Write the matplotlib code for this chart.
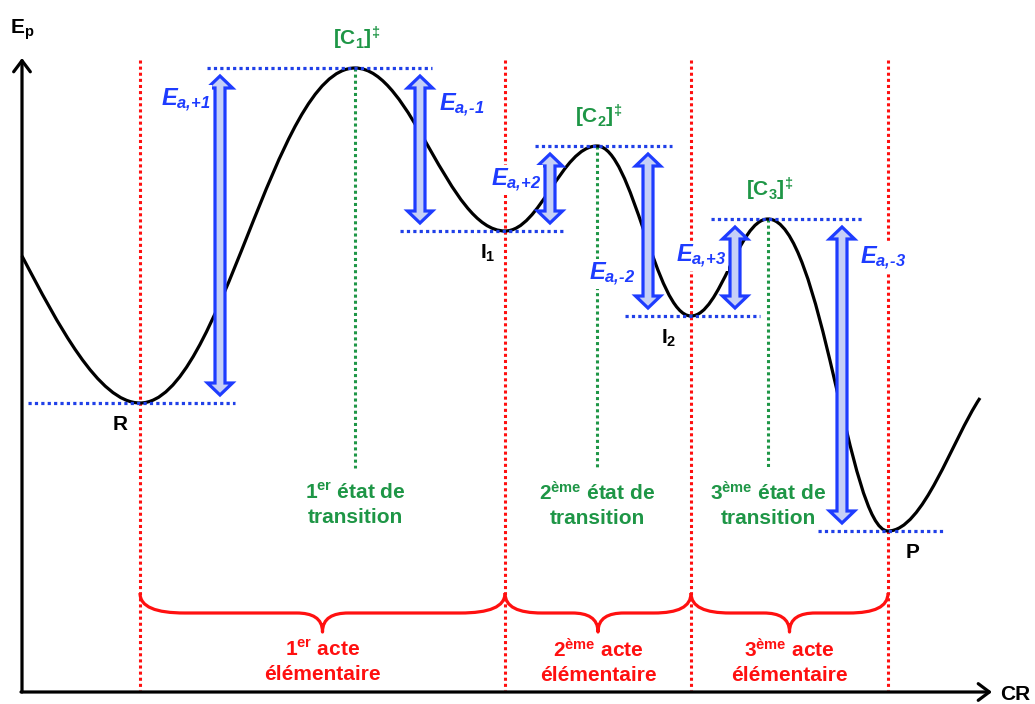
import matplotlib.pyplot as plt
from matplotlib.path import Path
from matplotlib.patches import PathPatch, Polygon

plt.rcParams['font.family'] = ['Liberation Sans', 'DejaVu Sans']
plt.rcParams['font.weight'] = 'bold'
plt.rcParams['mathtext.fontset'] = 'custom'
plt.rcParams['mathtext.rm'] = 'Liberation Sans:italic:bold'
plt.rcParams['mathtext.it'] = 'Liberation Sans:italic:bold'
plt.rcParams['mathtext.bf'] = 'Liberation Sans:bold'

# stationary points of the energy profile (x = CR, y = Ep, picture units, y downwards)
points = ['start', 'R', 'C1', 'I1', 'C2', 'I2', 'C3', 'P', 'end']
cr = [22, 140, 355, 505, 597, 691, 768, 888, 980]
ep = [256, 403, 68, 231, 146, 316, 219, 531, 398]
P = dict(zip(points, zip(cr, ep)))

# blue dotted energy levels and their extent
levels = ['R', 'C1', 'I1', 'C2', 'I2', 'C3', 'P']
level_from = [28, 207, 400, 535, 625, 711, 818]
level_to = [235, 432, 565, 672, 760, 862, 945]

# activation energy arrows
ea_text = [r'$E_{a\text{,+1}}$', r'$E_{a\text{,-1}}$', r'$E_{a\text{,+2}}$',
           r'$E_{a\text{,-2}}$', r'$E_{a\text{,+3}}$', r'$E_{a\text{,-3}}$']
ea_x = [220, 420, 550, 648, 735, 842]
ea_low = ['R', 'I1', 'I1', 'I2', 'I2', 'P']
ea_high = ['C1', 'C1', 'C2', 'C2', 'C3', 'C3']
ea_lab = [(186, 100), (462, 105), (516, 180), (612, 274), (701, 256), (883, 258)]

# transition states and elementary steps
ts = ['C1', 'C2', 'C3']
ts_name = [r'$\mathbf{[C_1]^‡}$', r'$\mathbf{[C_2]^‡}$', r'$\mathbf{[C_3]^‡}$']
ts_text = [r'$\mathbf{1^{er}}$ état de' + '\ntransition',
           r'$\mathbf{2^{ème}}$ état de' + '\ntransition',
           r'$\mathbf{3^{ème}}$ état de' + '\ntransition']
step_bounds = ['R', 'I1', 'I2', 'P']
step_text = [r'$\mathbf{1^{er}}$ acte' + '\nélémentaire',
             r'$\mathbf{2^{ème}}$ acte' + '\nélémentaire',
             r'$\mathbf{3^{ème}}$ acte' + '\nélémentaire']
species = ['R', 'I1', 'I2', 'P']
species_text = ['R', r'$\mathbf{I_1}$', r'$\mathbf{I_2}$', 'P']
species_off = [(-20, 22), (-17, 22), (-22, 22), (25, 21)]

GREEN = '#1e9646'
RED = '#ff1010'
BLUE = '#1e3cff'

fig = plt.figure(figsize=(10.35, 7.04), dpi=100)
ax = fig.add_axes([0, 0, 1, 1])
ax.set_xlim(0, 1035)
ax.set_ylim(704, 0)
ax.axis('off')

# axes arrows
aprops = dict(arrowstyle='->,head_length=0.4,head_width=0.3', lw=2.3, color='black',
              mutation_scale=20, shrinkA=0, shrinkB=0)
ax.annotate('', xy=(22, 58), xytext=(22, 692), arrowprops=aprops)
ax.annotate('', xy=(992, 692), xytext=(21, 692), arrowprops=aprops)
ax.text(10, 30, r'$\mathbf{E_p}$', fontsize=15, va='center', ha='left')
ax.text(1000, 695, 'CR', fontsize=15, va='center', ha='left')

dots = (0, (1, 1))
# red boundaries between elementary steps
for name in step_bounds:
    ax.plot([P[name][0]] * 2, [60, 690], color=RED, lw=2.2, ls=dots)

# green transition state lines
for name, lab, txt in zip(ts, ts_name, ts_text):
    x, y = P[name]
    ax.plot([x, x], [y, 468], color=GREEN, lw=2.2, ls=dots)
    ax.text(x + 2, y - 30, lab, color=GREEN, fontsize=15, ha='center', va='center')
    ax.text(x, 505, txt, color=GREEN, fontsize=15, ha='center', va='center',
            multialignment='center', linespacing=1.3)

# energy profile as smooth Bezier pieces with flat tangents at the extrema
verts = [P['start']]
codes = [Path.MOVETO]
for i in range(len(points) - 1):
    (xa, ya), (xb, yb) = P[points[i]], P[points[i + 1]]
    dx = xb - xa
    k1, k2 = 0.38, 0.38
    if points[i + 1] == 'P':
        k1, k2 = 0.45, 0.33
    c1 = (xa + k1 * dx, ya)
    c2 = (xb - k2 * dx, yb)
    if points[i] == 'start':
        c1 = (xa + 0.3 * dx, ya + 0.3 * dx * 1.9)
        c2 = (xb - 0.35 * dx, yb)
    if points[i + 1] == 'end':
        c2 = (xb - 0.3 * dx, yb + 0.3 * dx * 1.5)
    verts += [c1, c2, (xb, yb)]
    codes += [Path.CURVE4] * 3
ax.add_patch(PathPatch(Path(verts, codes), fc='none', ec='black', lw=2.3, zorder=3))

# blue levels
for name, x0, x1 in zip(levels, level_from, level_to):
    ax.plot([x0, x1], [P[name][1]] * 2, color='#2040e8', lw=2.3, ls=dots, zorder=4)

# double arrows for activation energies
sw, hw, hl, gap = 5, 12.5, 12, 8
for txt, x, lo, hi, (lx, ly) in zip(ea_text, ea_x, ea_low, ea_high, ea_lab):
    yt = P[hi][1] + gap
    yb = P[lo][1] - gap
    poly = [(x, yt), (x + hw, yt + hl), (x + sw, yt + hl), (x + sw, yb - hl),
            (x + hw, yb - hl), (x, yb), (x - hw, yb - hl), (x - sw, yb - hl),
            (x - sw, yt + hl), (x - hw, yt + hl)]
    ax.add_patch(Polygon(poly, closed=True, fc='#c6d0f7', ec=BLUE, lw=2.3,
                         joinstyle='miter', zorder=5))
    ax.text(lx, ly, txt, color=BLUE, fontsize=17, ha='center', va='center', zorder=6,
            bbox=dict(fc='white', ec='none', pad=1))

# species labels
for name, txt, (ox, oy) in zip(species, species_text, species_off):
    x, y = P[name]
    ax.text(x + ox, y + oy, txt, fontsize=15, ha='center', va='center')

# red braces for elementary steps
for i in range(len(step_bounds) - 1):
    xa, xb = P[step_bounds[i]][0], P[step_bounds[i + 1]][0]
    xc = (xa + xb) / 2
    q = min(45, 0.2 * (xb - xa))
    qc = 26
    yt, ym, yp = 593, 613, 632
    bv = [(xa, yt), (xa, yt + 14), (xa + 0.35 * q, ym), (xa + q, ym),
          (xc - qc, ym),
          (xc - 0.4 * qc, ym), (xc, ym + 5), (xc, yp),
          (xc, ym + 5), (xc + 0.4 * qc, ym), (xc + qc, ym),
          (xb - q, ym),
          (xb - 0.35 * q, ym), (xb, yt + 14), (xb, yt)]
    bc = [Path.MOVETO] + [Path.CURVE4] * 3 + [Path.LINETO] + [Path.CURVE4] * 6 + \
         [Path.LINETO] + [Path.CURVE4] * 3
    ax.add_patch(PathPatch(Path(bv, bc), fc='none', ec=RED, lw=2.3, joinstyle='round'))
    ax.text(xc, 662, step_text[i], color=RED, fontsize=15, ha='center', va='center',
            multialignment='center', linespacing=1.3)

fig.savefig('out.png', dpi=100)
